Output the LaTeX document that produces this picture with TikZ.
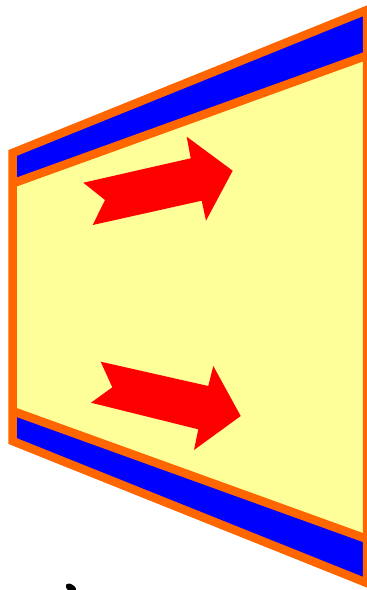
\documentclass[tikz,border=0pt]{standalone}
\usepackage{xcolor}
\usepackage{tikz}

\definecolor{wallorange}{HTML}{FF6600}
\definecolor{coreyellow}{HTML}{FFFF99}
\definecolor{bandblue}{HTML}{0000FF}

\begin{document}
\begin{tikzpicture}[
    x=1pt, y=-1pt,
    band/.style={fill=bandblue},
    core/.style={fill=coreyellow},
    wall/.style={draw=wallorange, line width=8.5pt, line join=miter},
    flowarrow/.style={fill=red}
]
\useasboundingbox (0,0) rectangle (367,590);
\clip (0,0) rectangle (367,590);

% Corners of the duct
\coordinate (otl) at (12.5,153);
\coordinate (otr) at (367,10);
\coordinate (obr) at (367,583);
\coordinate (obl) at (12.5,441);
\coordinate (itl) at (12.5,183.5);
\coordinate (itr) at (367,55.5);
\coordinate (ibr) at (367,539);
\coordinate (ibl) at (12.5,411);

% Blue bands and yellow core
\fill[band] (otl) -- (otr) -- (obr) -- (obl) -- cycle;
\fill[core] (itl) -- (itr) -- (ibr) -- (ibl) -- cycle;

% Orange walls
\draw[wall] (itl) -- (itr);
\draw[wall] (ibl) -- (ibr);
\draw[wall] (otl) -- (otr) -- (obr) -- (obl) -- cycle;

% Flow arrows
\fill[flowarrow] (83.3,182.7) -- (190.7,158.3) -- (186.7,136.7) -- (232.7,170.7)
    -- (206,220.7) -- (201.7,200.7) -- (92.7,225) -- (105,200) -- cycle;
\fill[flowarrow] (100.7,361.7) -- (208.3,386) -- (213.3,366) -- (240.7,416)
    -- (194,450) -- (198.3,429.3) -- (91,402.7) -- (112.3,387.3) -- cycle;

% Mark at the lower edge
\fill[black, rotate around={-35:(71,588)}] (71,588) ellipse (6 and 3.5);

\end{tikzpicture}
\end{document}
